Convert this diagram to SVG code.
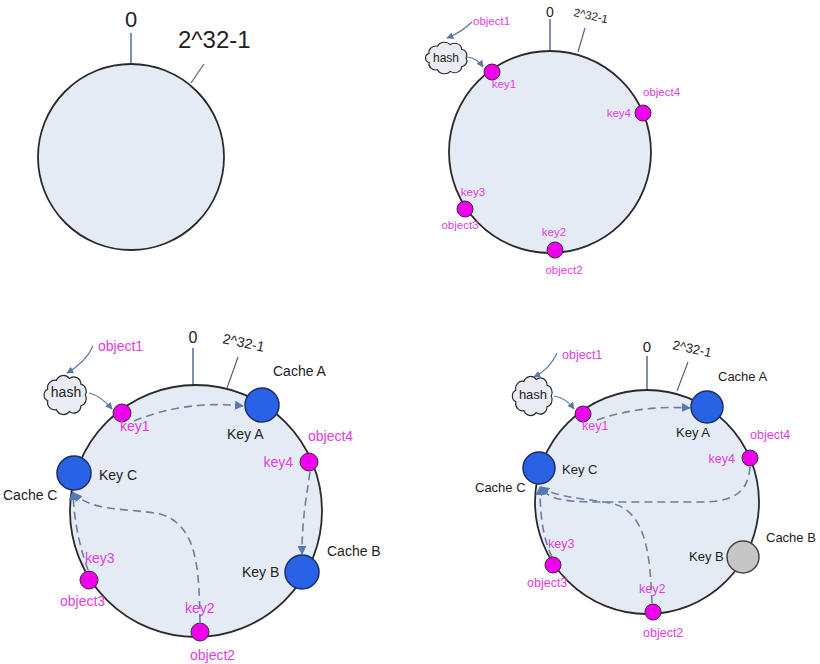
<svg xmlns="http://www.w3.org/2000/svg" width="820" height="664" viewBox="0 0 820 664">
<style>
text{font-family:"Liberation Sans",Arial,sans-serif}
.ring{fill:#e5ebf5;stroke:#2a2a2a;stroke-width:1.8}
.zero{stroke:#7f90b2;stroke-width:2;fill:none}
.tick{stroke:#55657a;stroke-width:1.2;fill:none}
.dark{fill:#222}
.pink{fill:#e23ce2}
.key{fill:#ee00ee;stroke:#3a2a3a;stroke-width:1}
.node{fill:#2a62e6;stroke:#1b2f66;stroke-width:1.5}
.down{fill:#c6c6c6;stroke:#444;stroke-width:1.5}
.cloud{fill:#e9edf3;stroke:#2a2a2a;stroke-width:1.2}
.flow{stroke:#5a78a8;stroke-width:1.2;fill:none;marker-end:url(#ah)}
.dash{stroke:#6c7f9c;stroke-width:1.6;fill:none;stroke-dasharray:8 5;marker-end:url(#ad)}
</style>
<defs>
<marker id="ah" viewBox="0 0 10 10" refX="9" refY="5" markerWidth="7" markerHeight="7" orient="auto" markerUnits="userSpaceOnUse">
<path d="M0,0 L10,5 L0,10 z" fill="#5a78a8"/>
</marker>
<marker id="ad" viewBox="0 0 10 10" refX="9" refY="5" markerWidth="9" markerHeight="9" orient="auto" markerUnits="userSpaceOnUse">
<path d="M0,0 L10,5 L0,10 z" fill="#5a78b0"/>
</marker>
<path id="cl" d="M19,0 A7,7 0 0 1 14.6,10.3 A7,7 0 0 1 3.3,15.8 A7.5,7.5 0 0 1 -9.5,13.9 A7,7 0 0 1 -17.9,5.5 A6,6 0 0 1 -17.9,-5.5 A7,7 0 0 1 -9.5,-13.9 A7.5,7.5 0 0 1 3.3,-15.8 A7,7 0 0 1 14.6,-10.3 A7,7 0 0 1 19,0 Z"/>
</defs>
<rect width="820" height="664" fill="#ffffff"/>

<!-- Panel 1 -->
<g id="p1-ring">
<line class="zero" x1="131" y1="33" x2="131" y2="64"/>
<line class="tick" x1="204" y1="64" x2="191" y2="83"/>
<circle class="ring" cx="131" cy="157" r="93"/>
<text class="dark" x="131" y="27" font-size="22" text-anchor="middle">0</text>
<text class="dark" x="178" y="48" font-size="24">2^32-1</text>
</g>

<!-- Panel 2 -->
<g id="p2-ring">
<line class="zero" x1="550" y1="19" x2="550" y2="51"/>
<line class="tick" x1="585" y1="28" x2="578" y2="52"/>
<circle class="ring" cx="550" cy="152" r="101"/>
<text class="dark" x="550" y="17" font-size="14" text-anchor="middle">0</text>
<text class="dark" x="573" y="16" font-size="11.5" transform="rotate(12 573 16)">2^32-1</text>
</g>
<g id="p2-hash">
<use href="#cl" class="cloud" transform="translate(447,58) scale(1,0.85)"/>
<text class="dark" x="446" y="62" font-size="12" text-anchor="middle">hash</text>
</g>
<g id="p2-object1"><text class="pink" x="473" y="25" font-size="11.5">object1</text></g>
<g id="p2-key1"><circle class="key" cx="492" cy="72" r="8"/><text class="pink" x="504" y="88" font-size="11.5" text-anchor="middle">key1</text></g>
<g id="p2-key4"><circle class="key" cx="643" cy="113" r="8"/><text class="pink" x="631" y="117" font-size="11.5" text-anchor="end">key4</text><text class="pink" x="643" y="96" font-size="11.5">object4</text></g>
<g id="p2-key3"><circle class="key" cx="465" cy="209" r="8"/><text class="pink" x="473" y="196" font-size="11.5" text-anchor="middle">key3</text><text class="pink" x="460" y="229" font-size="11.5" text-anchor="middle">object3</text></g>
<g id="p2-key2"><circle class="key" cx="555" cy="250" r="8"/><text class="pink" x="554" y="236" font-size="11.5" text-anchor="middle">key2</text><text class="pink" x="564" y="274" font-size="11.5" text-anchor="middle">object2</text></g>

<!-- Panel 3 -->
<g id="p3-ring">
<line class="zero" x1="193" y1="348" x2="193" y2="386"/>
<line class="tick" x1="238" y1="357" x2="227" y2="388"/>
<circle class="ring" cx="196" cy="511" r="126"/>
<text class="dark" x="193" y="343" font-size="16" text-anchor="middle">0</text>
<text class="dark" x="222" y="343" font-size="14" transform="rotate(12 222 343)">2^32-1</text>
</g>
<g id="p3-hash">
<use href="#cl" class="cloud" transform="translate(66,395) scale(1.02,1.05)"/>
<text class="dark" x="66" y="397" font-size="14" text-anchor="middle">hash</text>
</g>
<g id="p3-object1"><text class="pink" x="98" y="351" font-size="14">object1</text></g>
<g id="p3-cacheA"><circle class="node" cx="262" cy="405" r="17"/><text class="dark" x="273" y="376" font-size="14">Cache A</text><text class="dark" x="227" y="439" font-size="14">Key A</text></g>
<g id="p3-cacheB"><circle class="node" cx="302" cy="572" r="17"/><text class="dark" x="327" y="556" font-size="14">Cache B</text><text class="dark" x="242" y="577" font-size="14">Key B</text></g>
<g id="p3-cacheC"><circle class="node" cx="74" cy="473" r="17"/><text class="dark" x="99" y="480" font-size="14">Key C</text><text class="dark" x="3" y="500" font-size="14">Cache C</text></g>

<!-- Panel 4 -->
<g id="p4-ring">
<line class="zero" x1="647" y1="356" x2="647" y2="390"/>
<line class="tick" x1="688" y1="362" x2="677" y2="391"/>
<circle class="ring" cx="647" cy="502" r="112"/>
<text class="dark" x="647" y="352" font-size="15" text-anchor="middle">0</text>
<text class="dark" x="672" y="349" font-size="13" transform="rotate(12 672 349)">2^32-1</text>
</g>
<g id="p4-hash">
<use href="#cl" class="cloud" transform="translate(533,396) scale(0.96,1.05)"/>
<text class="dark" x="533" y="399" font-size="13" text-anchor="middle">hash</text>
</g>
<g id="p4-object1"><text class="pink" x="562" y="359" font-size="12.5">object1</text></g>
<g id="p4-cacheA"><circle class="node" cx="707" cy="407" r="16"/><text class="dark" x="718" y="381" font-size="13">Cache A</text><text class="dark" x="676" y="437" font-size="13">Key A</text></g>
<g id="p4-cacheB"><circle class="down" cx="743" cy="557" r="16"/><text class="dark" x="766" y="542" font-size="13">Cache B</text><text class="dark" x="689" y="561" font-size="13">Key B</text></g>
<g id="p4-cacheC"><circle class="node" cx="539" cy="468" r="16"/><text class="dark" x="562" y="474" font-size="13">Key C</text><text class="dark" x="475" y="492" font-size="13">Cache C</text></g>

<!-- Connectors -->
<g id="connectors">
<path class="flow" d="M472,22 Q462,32 447,38"/>
<path class="flow" d="M467,57 Q477,58 483,67"/>
<path class="flow" d="M93,346 Q86,362 67,373"/>
<path class="flow" d="M89,393 Q101,396 112,409"/>
<path class="flow" d="M557,353 Q550,369 534,377"/>
<path class="flow" d="M554,396 Q566,398 574,409"/>
<path class="dash" d="M134,421 Q185,400 243,406"/>
<path class="dash" d="M310,472 C306,500 302,520 302,554"/>
<path class="dash" d="M88,570 C80,548 74,522 73,492"/>
<path class="dash" d="M200,622 C199,570 198,525 160,514 C130,508 90,512 74,493"/>
<path class="dash" d="M597,420 Q640,405 690,408"/>
<path class="dash" d="M750,467 C748,495 730,502 700,502 L590,502 C565,501 548,500 541,487"/>
<path class="dash" d="M652,603 C650,560 648,510 610,503 C580,498 555,497 541,487"/>
<path class="dash" d="M552,557 C544,540 540,520 540,487"/>
</g>

<!-- Panel 3 & 4 keys drawn above connectors -->
<g id="p3-key1"><circle class="key" cx="122" cy="413" r="9"/><text class="pink" x="120" y="431" font-size="14">key1</text></g>
<g id="p3-key4"><circle class="key" cx="309" cy="462" r="9"/><text class="pink" x="293" y="467" font-size="14" text-anchor="end">key4</text><text class="pink" x="308" y="441" font-size="14">object4</text></g>
<g id="p3-key3"><circle class="key" cx="89" cy="580" r="9"/><text class="pink" x="85" y="563" font-size="14">key3</text><text class="pink" x="60" y="606" font-size="14">object3</text></g>
<g id="p3-key2"><circle class="key" cx="200" cy="632" r="9"/><text class="pink" x="185" y="613" font-size="14">key2</text><text class="pink" x="190" y="660" font-size="14">object2</text></g>
<g id="p4-key1"><circle class="key" cx="583" cy="414" r="8"/><text class="pink" x="582" y="430" font-size="12.5">key1</text></g>
<g id="p4-key4"><circle class="key" cx="750" cy="458" r="8"/><text class="pink" x="735" y="463" font-size="12.5" text-anchor="end">key4</text><text class="pink" x="750" y="439" font-size="12.5">object4</text></g>
<g id="p4-key3"><circle class="key" cx="553" cy="565" r="8"/><text class="pink" x="548" y="548" font-size="12.5">key3</text><text class="pink" x="527" y="587" font-size="12.5">object3</text></g>
<g id="p4-key2"><circle class="key" cx="653" cy="612" r="8"/><text class="pink" x="639" y="593" font-size="12.5">key2</text><text class="pink" x="643" y="637" font-size="12.5">object2</text></g>
</svg>
